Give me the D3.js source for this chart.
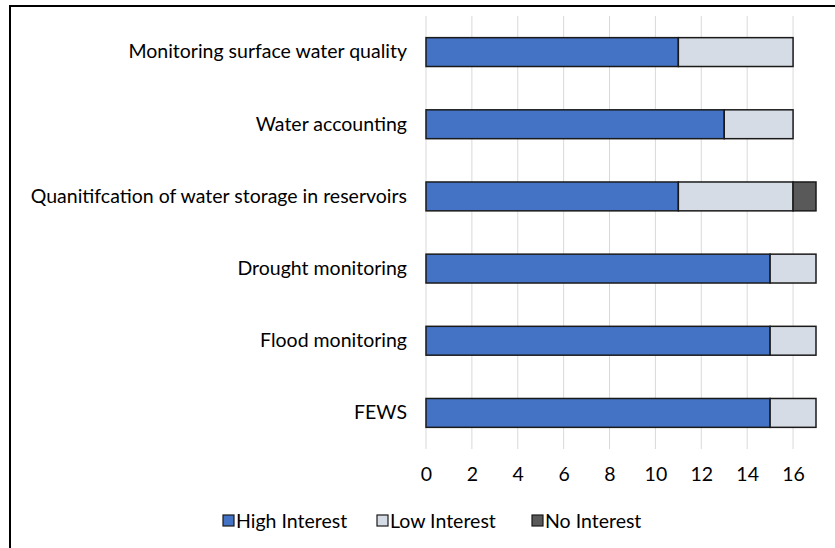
<!DOCTYPE html>
<html><head><meta charset="utf-8">
<script src="https://cdn.jsdelivr.net/npm/d3@7"></script>
<style>body{margin:0;background:#fff}svg{display:block}</style>
</head><body>
<svg id="c" width="835" height="548"></svg>
<script>
const categories = ["Monitoring surface water quality","Water accounting","Quanitifcation of water storage in reservoirs","Drought monitoring","Flood monitoring","FEWS"];
const highInterest = [11,13,11,15,15,15];
const lowInterest = [5,3,5,2,2,2];
const noInterest = [0,0,1,0,0,0];
const seriesNames = ["High Interest","Low Interest","No Interest"];
const seriesColors = ["#4472C4","#D6DCE5","#595959"];
const xTicks = [0,2,4,6,8,10,12,14,16];

const svg = d3.select("#c");
const font = "Lato, 'Open Sans', sans-serif";
const fs = 19.5;
// frame
svg.append("path").attr("d","M10,548 L10,6 L835,6").attr("fill","none").attr("stroke","#000").attr("stroke-width",2);

const x = d3.scaleLinear().domain([0,17]).range([426,816]);
const y = d3.scaleBand().domain(categories).range([16,449]).paddingInner(0.6).paddingOuter(0.3);

// gridlines
svg.append("g").selectAll("line").data(xTicks).join("line")
  .attr("x1",d=>x(d)).attr("x2",d=>x(d)).attr("y1",16).attr("y2",449)
  .attr("stroke","#d9d9d9").attr("stroke-width",1);

const rows = categories.map((c,i)=>({cat:c, vals:[highInterest[i],lowInterest[i],noInterest[i]]}));
const stack = d3.stack().keys([0,1,2]).value((d,k)=>d.vals[k]);
const stacked = stack(rows);

svg.append("g").selectAll("g").data(stacked).join("g")
  .attr("fill",(d,i)=>seriesColors[i])
  .selectAll("rect").data(d=>d.filter(s=>s[1]-s[0]>0)).join("rect")
  .attr("x",d=>x(d[0])).attr("width",d=>x(d[1])-x(d[0]))
  .attr("y",d=>y(d.data.cat)).attr("height",y.bandwidth())
  .attr("stroke","#1a1a1a").attr("stroke-width",1.5);

// category labels
const yAxis = d3.axisLeft(y).tickSize(0).tickPadding(0);
const ya = svg.append("g").attr("transform","translate(407,0)").call(yAxis);
ya.select(".domain").remove();
ya.selectAll("text").attr("font-family",font).attr("font-size",fs).attr("fill","#000");

// x axis labels
const xAxis = d3.axisBottom(x).tickValues(xTicks).tickSize(0).tickPadding(0);
const xa = svg.append("g").attr("transform","translate(0,467)").call(xAxis);
xa.select(".domain").remove();
xa.selectAll("text").attr("font-family",font).attr("font-size",fs).attr("fill","#000");

// legend
const legX = [223,377,532];
const lg = svg.append("g").selectAll("g").data(seriesNames).join("g")
  .attr("transform",(d,i)=>`translate(${legX[i]},521)`);
lg.append("rect").attr("x",0).attr("y",-6).attr("width",11).attr("height",11)
  .attr("fill",(d,i)=>seriesColors[i]).attr("stroke","#1a1a1a").attr("stroke-width",1.2);
lg.append("text").attr("x",13).attr("y",0).attr("dy","0.35em").text(d=>d)
  .attr("font-family",font).attr("font-size",fs).attr("fill","#000");
</script>
</body></html>
